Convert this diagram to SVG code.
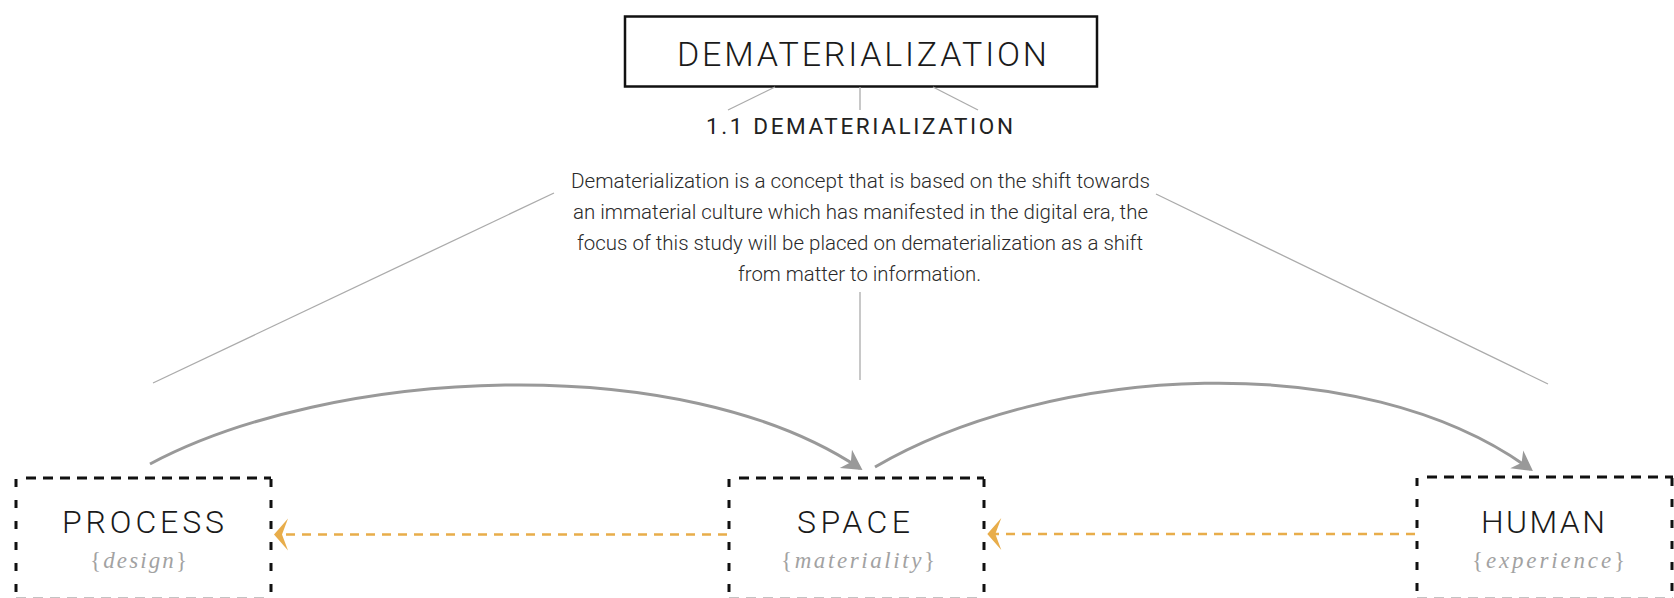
<svg xmlns="http://www.w3.org/2000/svg" width="1674" height="598" viewBox="0 0 1674 598">
<style>
.title{font-family:Roboto,"Liberation Sans",sans-serif;font-weight:300;font-size:34px;fill:#1a1a1a}
.sub{font-family:Roboto,"Liberation Sans",sans-serif;font-weight:400;font-size:22.5px;fill:#222}
.para{font-family:Roboto,"Liberation Sans",sans-serif;font-weight:300;font-size:21px;fill:#2a2a2a}
.node{font-family:Roboto,"Liberation Sans",sans-serif;font-weight:300;font-size:32px;fill:#1a1a1a}
.tag{font-family:"Liberation Serif",serif;font-style:italic;font-size:23px;fill:#a2a2a2}
.br{font-style:normal;font-weight:300}
.thin{stroke:#ababab;stroke-width:1.3;fill:none}
.arc{stroke:#999;stroke-width:3;fill:none}
.orange{stroke:#E8AD4A;stroke-width:2.5;fill:none;stroke-dasharray:9 7}
.dh{stroke:#111;stroke-width:3;fill:none;stroke-dasharray:10 7}
.dv{stroke:#111;stroke-width:3;fill:none;stroke-dasharray:8 13}
</style>
<defs>
<marker id="grayHead" markerUnits="userSpaceOnUse" viewBox="-30 -30 60 60" markerWidth="60" markerHeight="60" refX="-3" refY="0" orient="auto">
<path d="M0,0 L-20,-11 L-14,0 L-20,11 Z" fill="#999"/>
</marker>
<marker id="orangeHead" markerUnits="userSpaceOnUse" viewBox="-30 -30 60 60" markerWidth="60" markerHeight="60" refX="-3" refY="0" orient="auto">
<path d="M0,0 L-14,-16 L-8,0 L-14,16 Z" fill="#E8AD4A"/>
</marker>
</defs>

<g id="title">
<rect x="625" y="16.5" width="472" height="70" fill="none" stroke="#111" stroke-width="2.5"/>
<text class="title" x="677" y="66" textLength="370" lengthAdjust="spacing">DEMATERIALIZATION</text>
</g>

<g id="subtitle">
<text class="sub" x="706" y="134" textLength="307" lengthAdjust="spacing">1.1 DEMATERIALIZATION</text>
</g>

<g id="description">
<text class="para" x="571" y="188" textLength="579" lengthAdjust="spacingAndGlyphs">Dematerialization is a concept that is based on the shift towards</text>
<text class="para" x="573" y="219" textLength="575" lengthAdjust="spacingAndGlyphs">an immaterial culture which has manifested in the digital era, the</text>
<text class="para" x="577" y="250" textLength="566" lengthAdjust="spacingAndGlyphs">focus of this study will be placed on dematerialization as a shift</text>
<text class="para" x="738" y="281" textLength="243" lengthAdjust="spacingAndGlyphs">from matter to information.</text>
</g>

<g id="process">
<path class="dh" d="M26,478 H271"/>
<path class="dv" d="M16,479 V598"/>
<path class="dv" d="M271,479 V598"/>
<path class="dh" d="M16,599.3 H271"/>
<text class="node" x="62" y="533" textLength="162" lengthAdjust="spacing">PROCESS</text>
<text class="tag" x="90" y="568" textLength="97" lengthAdjust="spacing"><tspan class="br">{</tspan>design<tspan class="br">}</tspan></text>
</g>

<g id="space">
<path class="dh" d="M739,478 H984"/>
<path class="dv" d="M729,479 V598"/>
<path class="dv" d="M984,479 V598"/>
<path class="dh" d="M729,599.3 H984"/>
<text class="node" x="797" y="533" textLength="113" lengthAdjust="spacing">SPACE</text>
<text class="tag" x="781" y="568" textLength="154" lengthAdjust="spacing"><tspan class="br">{</tspan>materiality<tspan class="br">}</tspan></text>
</g>

<g id="human">
<path class="dh" d="M1427,477 H1673"/>
<path class="dv" d="M1417,478 V598"/>
<path class="dv" d="M1672,478 V598"/>
<path class="dh" d="M1417,599.3 H1673"/>
<text class="node" x="1481" y="533" textLength="124" lengthAdjust="spacing">HUMAN</text>
<text class="tag" x="1472" y="568" textLength="153" lengthAdjust="spacing"><tspan class="br">{</tspan>experience<tspan class="br">}</tspan></text>
</g>

<g id="connectors">
<line class="thin" x1="775" y1="87" x2="728" y2="110"/>
<line class="thin" x1="860" y1="87" x2="860" y2="110"/>
<line class="thin" x1="933" y1="87" x2="978" y2="110"/>
<line class="thin" x1="554" y1="193" x2="153" y2="383"/>
<line class="thin" x1="1156" y1="194" x2="1548" y2="384"/>
<line class="thin" x1="860" y1="292" x2="860" y2="380"/>
<path class="arc" d="M150,464 C330,368 680,348 860,468.4" marker-end="url(#grayHead)"/>
<path class="arc" d="M875,467 C1050,365 1360,345 1530.5,469.3" marker-end="url(#grayHead)"/>
<path class="orange" d="M727,534.5 H277" marker-end="url(#orangeHead)"/>
<path class="orange" d="M1415,534 H990.3" marker-end="url(#orangeHead)"/>
</g>
</svg>
